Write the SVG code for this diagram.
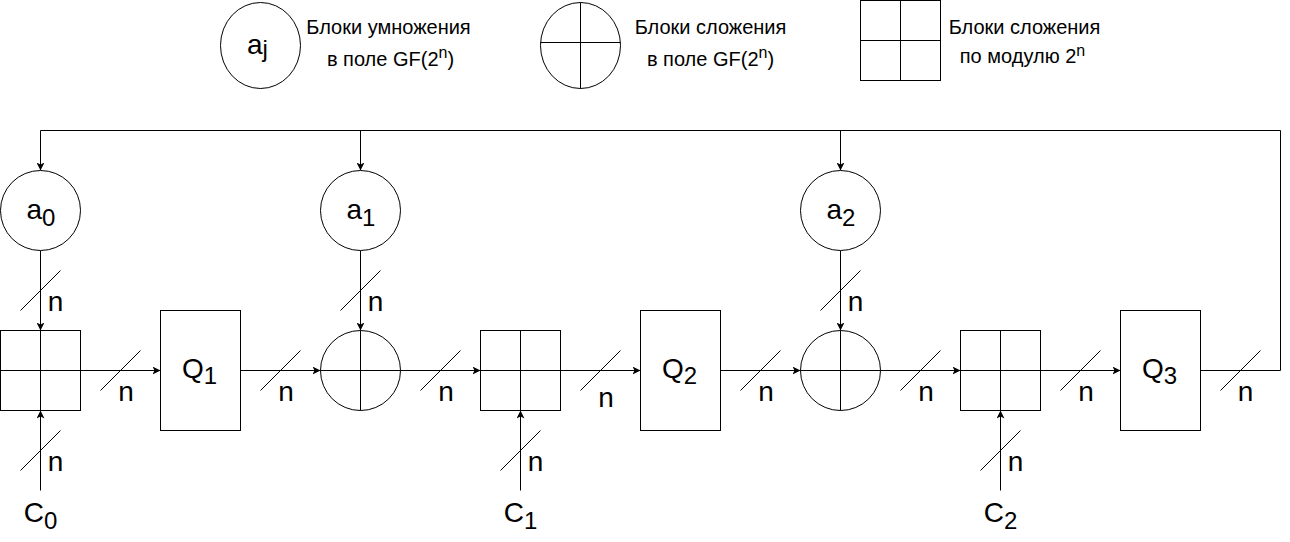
<svg xmlns="http://www.w3.org/2000/svg" width="1290" height="542" viewBox="0 0 1290 542">
<style>
.s{fill:#fff;stroke:#000;stroke-width:1}
.l{fill:none;stroke:#000;stroke-width:1}
.t{font-family:"Liberation Sans",Arial,Helvetica,sans-serif;fill:#000}
.big{font-size:28px;text-anchor:middle}
.leg{font-size:20px;text-anchor:middle}
.n{font-size:28px;text-anchor:middle}
</style>
<defs>
<marker id="arr" viewBox="0 0 8 8" refX="8" refY="4" markerWidth="8" markerHeight="8" markerUnits="userSpaceOnUse" orient="auto">
<path d="M0,0 L8,4 L0,8 L2,4 Z" fill="#000"/>
</marker>
</defs>
<rect x="0" y="0" width="1290" height="542" fill="#fff"/>
<g transform="translate(0.5,0.5)">
<g id="legend-mul">
<ellipse class="s" cx="260" cy="45" rx="40" ry="43"/>
<text class="t big" x="257" y="53">a<tspan font-size="24" dy="3">j</tspan></text>
<text class="t leg" x="388" y="33">Блоки умножения</text>
<text class="t leg" x="390" y="65">в поле GF(2<tspan font-size="16" dy="-8">n</tspan><tspan dy="8">)</tspan></text>
</g>
<g id="legend-gf-add">
<ellipse class="s" cx="580" cy="45" rx="40" ry="43"/>
<path class="l" d="M540,42 H620 M580,2 V88"/>
<text class="t leg" x="710" y="33">Блоки сложения</text>
<text class="t leg" x="710" y="65">в поле GF(2<tspan font-size="16" dy="-8">n</tspan><tspan dy="8">)</tspan></text>
</g>
<g id="legend-mod-add">
<rect class="s" x="860" y="0" width="80" height="80"/>
<path class="l" d="M860,40 H940 M900,0 V80"/>
<text class="t leg" x="1024" y="33">Блоки сложения</text>
<text class="t leg" x="1022" y="62">по модулю 2<tspan font-size="16" dy="-7">n</tspan></text>
</g>

<g id="connectors">
<path class="l" d="M1200,370 H1280 V130 H40 V170" marker-end="url(#arr)"/>
<path class="l" d="M360,130 V170" marker-end="url(#arr)"/>
<path class="l" d="M840,130 V170" marker-end="url(#arr)"/>
<path class="l" d="M1220,390 L1260,350"/>
<text class="t n" x="1245" y="400">n</text>

<path class="l" d="M40,250 V330" marker-end="url(#arr)"/>
<path class="l" d="M20,310 L60,270"/>
<text class="t n" x="55" y="310">n</text>
<path class="l" d="M360,250 V330" marker-end="url(#arr)"/>
<path class="l" d="M340,310 L380,270"/>
<text class="t n" x="375" y="310">n</text>
<path class="l" d="M840,250 V330" marker-end="url(#arr)"/>
<path class="l" d="M820,310 L860,270"/>
<text class="t n" x="855" y="310">n</text>

<path class="l" d="M40,490 V410" marker-end="url(#arr)"/>
<path class="l" d="M20,470 L60,430"/>
<text class="t n" x="55" y="470">n</text>
<path class="l" d="M520,490 V410" marker-end="url(#arr)"/>
<path class="l" d="M500,470 L540,430"/>
<text class="t n" x="535" y="470">n</text>
<path class="l" d="M1000,490 V410" marker-end="url(#arr)"/>
<path class="l" d="M980,470 L1020,430"/>
<text class="t n" x="1015" y="470">n</text>

<path class="l" d="M80,370 H160" marker-end="url(#arr)"/>
<path class="l" d="M100,390 L140,350"/>
<text class="t n" x="125.5" y="400">n</text>
<path class="l" d="M240,370 H320" marker-end="url(#arr)"/>
<path class="l" d="M260,390 L300,350"/>
<text class="t n" x="285.5" y="400">n</text>
<path class="l" d="M400,370 H480" marker-end="url(#arr)"/>
<path class="l" d="M420,390 L460,350"/>
<text class="t n" x="445.5" y="400">n</text>
<path class="l" d="M560,370 H640" marker-end="url(#arr)"/>
<path class="l" d="M580,390 L620,350"/>
<text class="t n" x="605.5" y="406">n</text>
<path class="l" d="M720,370 H800" marker-end="url(#arr)"/>
<path class="l" d="M740,390 L780,350"/>
<text class="t n" x="765.5" y="400">n</text>
<path class="l" d="M880,370 H960" marker-end="url(#arr)"/>
<path class="l" d="M900,390 L940,350"/>
<text class="t n" x="925.5" y="400">n</text>
<path class="l" d="M1040,370 H1120" marker-end="url(#arr)"/>
<path class="l" d="M1060,390 L1100,350"/>
<text class="t n" x="1085.5" y="400">n</text>
</g>

<g id="mul-a0">
<circle class="s" cx="40" cy="210" r="40"/>
<text class="t big" x="40.5" y="218">a<tspan font-size="24" dy="7">0</tspan></text>
</g>
<g id="mul-a1">
<circle class="s" cx="360" cy="210" r="40"/>
<text class="t big" x="360.5" y="218">a<tspan font-size="24" dy="7">1</tspan></text>
</g>
<g id="mul-a2">
<circle class="s" cx="840" cy="210" r="40"/>
<text class="t big" x="840.5" y="218">a<tspan font-size="24" dy="7">2</tspan></text>
</g>

<g id="add-mod-0">
<rect class="s" x="0" y="330" width="80" height="80"/>
<path class="l" d="M0,370 H80 M40,330 V410"/>
</g>
<g id="reg-q1">
<rect class="s" x="160" y="310" width="80" height="120"/>
<text class="t big" x="199" y="377">Q<tspan font-size="24" dy="6">1</tspan></text>
</g>
<g id="add-gf-1">
<circle class="s" cx="360" cy="370" r="40"/>
<path class="l" d="M320,370 H400 M360,330 V410"/>
</g>
<g id="add-mod-1">
<rect class="s" x="480" y="330" width="80" height="80"/>
<path class="l" d="M480,370 H560 M520,330 V410"/>
</g>
<g id="reg-q2">
<rect class="s" x="640" y="310" width="80" height="120"/>
<text class="t big" x="679" y="377">Q<tspan font-size="24" dy="6">2</tspan></text>
</g>
<g id="add-gf-2">
<circle class="s" cx="840" cy="370" r="40"/>
<path class="l" d="M800,370 H880 M840,330 V410"/>
</g>
<g id="add-mod-2">
<rect class="s" x="960" y="330" width="80" height="80"/>
<path class="l" d="M960,370 H1040 M1000,330 V410"/>
</g>
<g id="reg-q3">
<rect class="s" x="1120" y="310" width="80" height="120"/>
<text class="t big" x="1159" y="377">Q<tspan font-size="24" dy="6">3</tspan></text>
</g>

<g id="input-c0">
<text class="t big" x="40" y="521">C<tspan font-size="24" dy="7">0</tspan></text>
</g>
<g id="input-c1">
<text class="t big" x="520" y="521">C<tspan font-size="24" dy="7">1</tspan></text>
</g>
<g id="input-c2">
<text class="t big" x="1000" y="521">C<tspan font-size="24" dy="7">2</tspan></text>
</g>
</g>
</svg>
